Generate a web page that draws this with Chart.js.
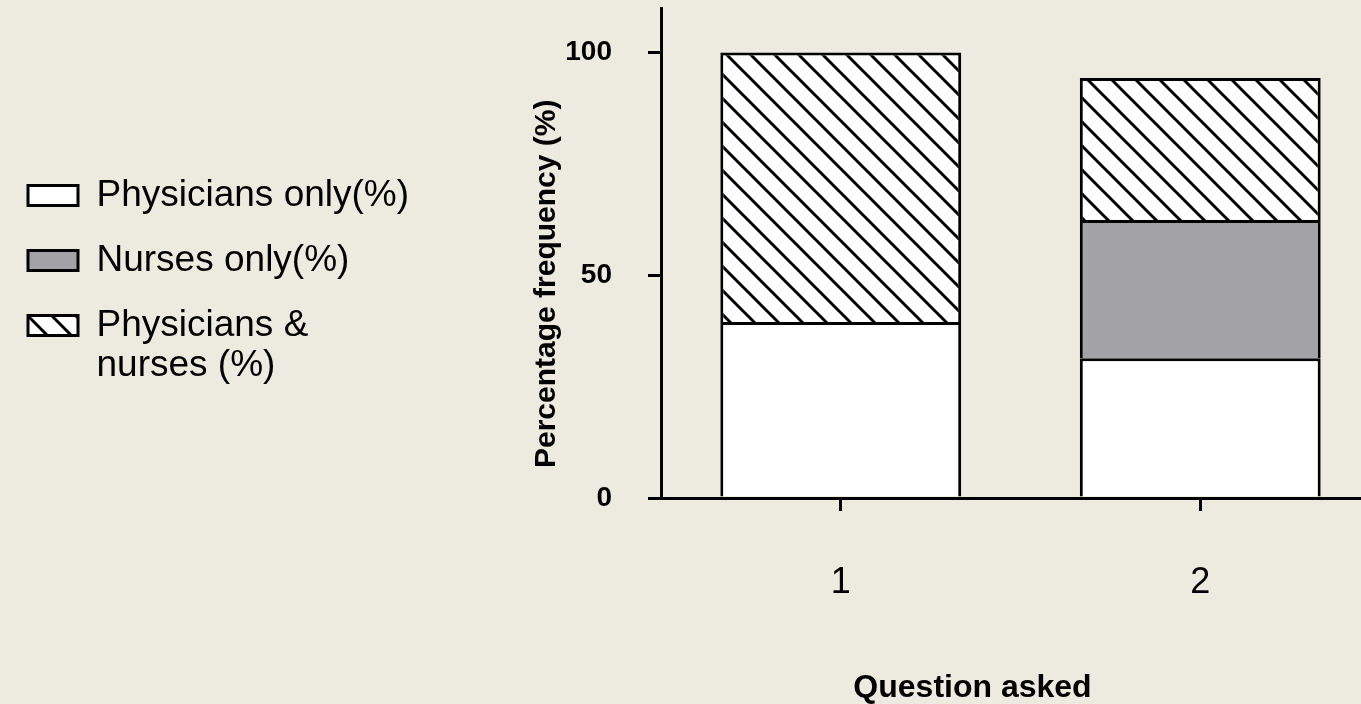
<!DOCTYPE html>
<html><head><meta charset="utf-8">
<script src="https://cdn.jsdelivr.net/npm/chart.js@4.4.1/dist/chart.umd.min.js"></script>
<style>
html,body{margin:0;padding:0;background:#EDEAE0;overflow:hidden;width:1361px;height:704px;}
canvas{display:block;}
</style></head><body>
<canvas id="c" width="1380" height="704"></canvas>
<script>
const categories = ['1', '2'];
const physiciansOnly = [39.5, 31.4];
const nursesOnly = [0, 31.0];
const physiciansAndNurses = [60.5, 31.9];
const seriesNames = ['Physicians only(%)', 'Nurses only(%)', 'Physicians & nurses (%)'];
const legendLines = ['Physicians only(%)', 'Nurses only(%)', ['Physicians &', 'nurses (%)']];
const yTickValues = [0, 50, 100];
const xTitle = 'Question asked';
const yTitle = 'Percentage frequency (%)';

Chart.defaults.font.family = "'Liberation Sans', Arial, Helvetica, sans-serif";
Chart.defaults.color = '#000';

const EM = '\u2003';
const canvas = document.getElementById('c');
const ctx = canvas.getContext('2d');
function hatch() {
  const s = 24, c = document.createElement('canvas');
  c.width = s; c.height = s;
  const g = c.getContext('2d');
  g.fillStyle = '#fff'; g.fillRect(0, 0, s, s);
  g.strokeStyle = '#000'; g.lineWidth = 3;
  g.beginPath();
  g.moveTo(-3, -3); g.lineTo(s + 3, s + 3);
  g.moveTo(-3, s - 3); g.lineTo(3, s + 3);
  g.moveTo(s - 3, -3); g.lineTo(s + 3, 3);
  g.stroke();
  return ctx.createPattern(c, 'repeat');
}

new Chart(canvas, {
  type: 'bar',
  data: {
    labels: categories,
    datasets: [
      {label: seriesNames[0], data: physiciansOnly, backgroundColor: '#ffffff', borderColor: '#000', borderWidth: 3},
      {label: seriesNames[1], data: nursesOnly, backgroundColor: '#A3A2A7', borderColor: '#000', borderWidth: 3},
      {label: seriesNames[2], data: physiciansAndNurses, backgroundColor: hatch(), borderColor: '#000', borderWidth: 3}
    ]
  },
  options: {
    responsive: false,
    animation: false,
    layout: {padding: {top: 8, left: 0, right: 0, bottom: 0}},
    datasets: {bar: {categoryPercentage: 1, barPercentage: 0.67}},
    plugins: {
      tooltip: {enabled: false},
      legend: {
        position: 'left', align: 'start', maxWidth: 470,
        title: {display: true, text: '', padding: {top: 129, bottom: 0}, font: {size: 10}},
        labels: {
          boxWidth: 50, boxHeight: 20, padding: 28, color: '#000',
          font: {size: 37, lineHeight: 1.08},
          generateLabels(chart) {
            const items = Chart.defaults.plugins.legend.labels.generateLabels(chart);
            items.forEach((it, i) => { it.text = legendLines[i]; });
            return items;
          }
        }
      }
    },
    scales: {
      x: {
        stacked: true, offset: true,
        grid: {offset: false, drawOnChartArea: false, drawTicks: true, tickLength: 13, lineWidth: 3, color: '#000'},
        border: {display: true, color: '#000', width: 3, z: 1},
        ticks: {color: '#000', font: {size: 36}, padding: 50, maxRotation: 0},
        title: {display: true, text: xTitle + EM + EM + EM, color: '#000', font: {size: 32, weight: 'bold', lineHeight: 1.0}, padding: {top: 0, bottom: 0}},
        afterFit(s) { s.height = 206; }
      },
      y: {
        stacked: true, min: 0, max: 110,
        grid: {drawOnChartArea: false, tickLength: 13, lineWidth: 3, color: '#000'},
        border: {display: true, color: '#000', width: 3, z: 1},
        ticks: {color: '#000', font: {size: 28, weight: 'bold'}, padding: 36},
        afterBuildTicks(s) { s.ticks = yTickValues.map(v => ({value: v})); },
        title: {display: true, text: EM + yTitle, align: 'start', color: '#000', font: {size: 30, weight: 'bold'}, padding: {top: 110, bottom: 0}},
        afterFit(s) {
          s.width = 661 - (s.chart.legend ? s.chart.legend.width : 419);
          s.paddingTop = 0;
          s.paddingBottom = 0;
        }
      }
    }
  }
});
</script>
</body></html>
